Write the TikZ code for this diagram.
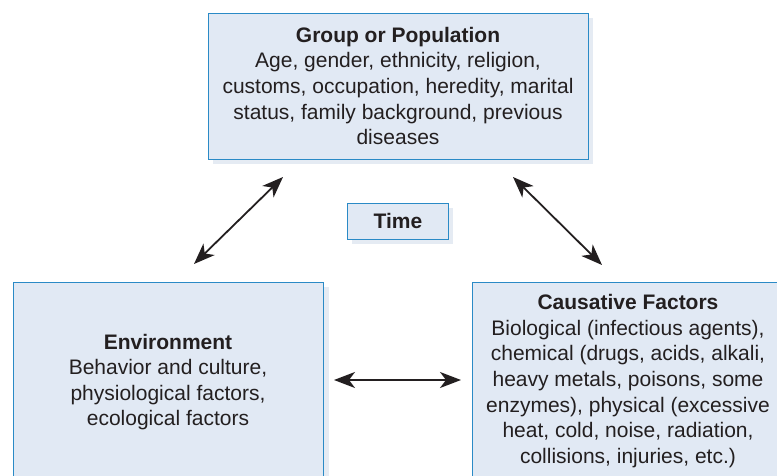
\documentclass[tikz,border=0pt]{standalone}
\usepackage{fontspec}
\setmainfont{Liberation Sans}
\usetikzlibrary{arrows.meta}
\definecolor{boxfill}{HTML}{E1E9F4}
\definecolor{boxline}{HTML}{2A8AC6}
\definecolor{shade}{HTML}{E5EBF3}
\definecolor{ink}{HTML}{231F20}
\tikzset{
  box/.style={draw=boxline, line width=1.3pt, fill=boxfill, inner sep=0pt,
    anchor=north west},
  boxshadow/.style={fill=shade, draw=none},
  txt/.style={align=center, text=ink, inner sep=0pt,
    font=\fontsize{21}{25.6}\selectfont},
  conn/.style={draw=ink, line width=1.8pt,
    {Stealth[length=21pt,width=16pt,inset=6pt]}-{Stealth[length=21pt,width=16pt,inset=6pt]}}
}
\begin{document}
\begin{tikzpicture}[x=1pt,y=-1pt]
\useasboundingbox (0,0) rectangle (777,476);
\clip (0,0) rectangle (777,476);
\fill[white] (0,0) rectangle (777,476);
% shadows
\fill[boxshadow] (213,18) rectangle (593,164);
\fill[boxshadow] (352,208) rectangle (453,244);
\fill[boxshadow] (18,287) rectangle (329,490);
\fill[boxshadow] (477,287) rectangle (790,490);
% boxes
\node[box, minimum width=380pt, minimum height=146pt] (grp) at (208,13) {};
\node[box, minimum width=101pt, minimum height=36pt] (time) at (347,203) {};
\node[box, minimum width=310pt, minimum height=210pt] (env) at (13,282) {};
\node[box, minimum width=320pt, minimum height=210pt] (cau) at (472,282) {};
% texts
\node[txt] (grptxt) at (398,86) {\textbf{Group or Population}\\Age, gender, ethnicity, religion,\\customs, occupation, heredity, marital\\status, family background, previous\\diseases};
\node[txt] (timetxt) at (398,221) {\textbf{Time}};
\node[txt] (envtxt) at (168,382) {\textbf{Environment}\\Behavior and culture,\\physiological factors,\\ecological factors};
\node[txt] (cautxt) at (628,381) {\textbf{Causative Factors}\\Biological (infectious agents),\\chemical (drugs, acids, alkali,\\heavy metals, poisons, some\\enzymes), physical (excessive\\heat, cold, noise, radiation,\\collisions, injuries, etc.)};
% connector ends
\coordinate (a1) at (283,177);
\coordinate (a2) at (194,264);
\coordinate (b1) at (513,177);
\coordinate (b2) at (602,265);
\coordinate (c1) at (334,380);
\coordinate (c2) at (461,380);
\draw[conn] (a1) -- (a2);
\draw[conn] (b1) -- (b2);
\draw[conn] (c1) -- (c2);
\end{tikzpicture}
\end{document}
